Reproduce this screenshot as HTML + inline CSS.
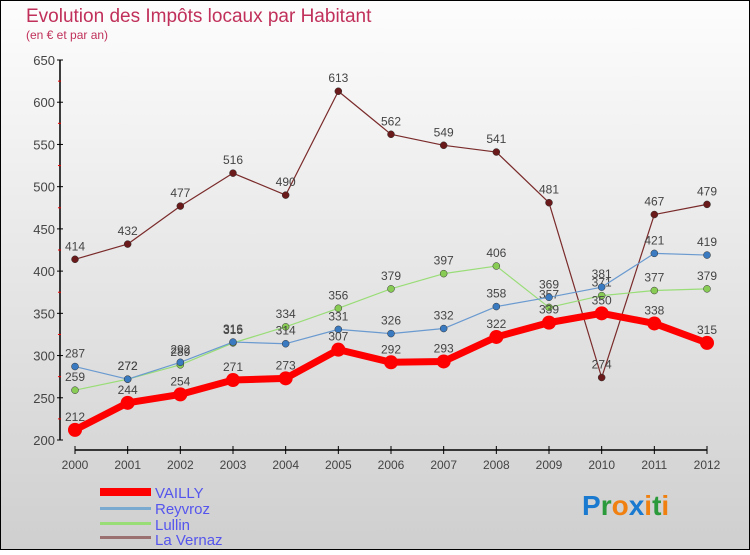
<!DOCTYPE html>
<html><head><meta charset="utf-8"><style>
body{margin:0;width:750px;height:550px;overflow:hidden;font-family:"Liberation Sans",sans-serif}
</style></head><body>
<svg width="750" height="550" xmlns="http://www.w3.org/2000/svg" font-family="Liberation Sans, sans-serif">
<defs><linearGradient id="bg" x1="0" y1="0" x2="0" y2="1"><stop offset="0" stop-color="#fdfdfd"/><stop offset="1" stop-color="#cfcfcf"/></linearGradient></defs>
<rect x="0.5" y="0.5" width="749" height="549" fill="url(#bg)" stroke="#000"/>
<text x="26" y="22" font-size="19" fill="#c0305a">Evolution des Impôts locaux par Habitant</text>
<text x="26" y="39" font-size="12" fill="#c0305a">(en € et par an)</text>
<g id="axes"></g>
<g id="series"></g>
<g font-size="15" fill="#5555ee">
<rect x="100" y="488" width="51" height="8" fill="#f00"/>
<text x="155" y="498" fill="#5555ee">VAILLY</text>
<rect x="100" y="507" width="51" height="3" fill="#7aaad0"/>
<text x="155" y="514" fill="#5555ee">Reyvroz</text>
<rect x="100" y="522" width="51" height="3" fill="#99dd77"/>
<text x="155" y="530" fill="#5555ee">Lullin</text>
<rect x="100" y="536" width="51" height="3" fill="#9a7070"/>
<text x="155" y="545" fill="#5555ee">La Vernaz</text>
</g>
<g font-size="28" font-weight="bold">
<text x="582" y="515"><tspan fill="#1a7ad0">P</tspan><tspan fill="#2a9a3a">r</tspan><tspan fill="#f08010">o</tspan><tspan fill="#1a7ad0">x</tspan><tspan fill="#f08010">i</tspan><tspan fill="#2a9a3a">t</tspan><tspan fill="#f08010">i</tspan></text>
</g>
</svg>
<script>
const years=["2000","2001","2002","2003","2004","2005","2006","2007","2008","2009","2010","2011","2012"];
const yTicks=[200,250,300,350,400,450,500,550,600,650];
const vailly=[212,244,254,271,273,307,292,293,322,339,350,338,315];
const reyvroz=[287,272,292,316,314,331,326,332,358,369,381,421,419];
const lullin=[259,272,289,315,334,356,379,397,406,357,371,377,379];
const lavernaz=[414,432,477,516,490,613,562,549,541,481,274,467,479];
const NS="http://www.w3.org/2000/svg";
const x=i=>75+i*(707-75)/(years.length-1);
const y=v=>440-(v-200)*380/450;
function mk(p,t,a){const e=document.createElementNS(NS,t);for(const k in a)e.setAttribute(k,a[k]);p.appendChild(e);return e;}
const ax=document.getElementById('axes');
let l=mk(ax,'line',{x1:60,y1:60,x2:60,y2:440,stroke:'#000','stroke-width':1.5});


l=mk(ax,'line',{x1:75,y1:450,x2:707,y2:450,stroke:'#000','stroke-width':1.5});


yTicks.forEach((v,i)=>{
 mk(ax,'line',{x1:57,y1:y(v),x2:63,y2:y(v),stroke:'#000'});
 if(i<yTicks.length-1)mk(ax,'line',{x1:58,y1:y(v+25),x2:61,y2:y(v+25),stroke:'#e00'});
 const t=mk(ax,'text',{x:55,y:y(v)+5,'text-anchor':'end','font-size':13,fill:'#444'});
 
 
 t.textContent=v;
});
years.forEach((yr,i)=>{
 mk(ax,'line',{x1:x(i),y1:446,x2:x(i),y2:454,stroke:'#000'});
 const t=mk(ax,'text',{x:x(i),y:469,'text-anchor':'middle','font-size':12,fill:'#444'});
 
 
 t.textContent=yr;
});
const sg=document.getElementById('series');
function draw(name,data,color,w,r,dot){
 const g=mk(sg,'g',{});
 
 
 const p=mk(g,'polyline',{points:data.map((v,i)=>x(i)+','+y(v)).join(' '),fill:'none',stroke:color,'stroke-width':w,'stroke-linejoin':'round'});
 
 
 data.forEach((v,i)=>{
  const c=mk(g,'circle',{cx:x(i),cy:y(v),r:r,fill:dot,stroke:'#333','stroke-width':r>5?0:0.5});
  
  
  const t=mk(g,'text',{x:x(i),y:y(v)-9,'text-anchor':'middle','font-size':12,fill:'#444'});
  
  
  t.textContent=v;
 });
}
draw('lavernaz',lavernaz,'#7a2a2a',1.2,3.5,'#6a1a1a');
draw('lullin',lullin,'#99dd77',1.2,3.5,'#88cc55');
draw('reyvroz',reyvroz,'#6a9ad0',1.2,3.5,'#3a7ac0');
draw('vailly',vailly,'#f00',7,7,'#f00');
</script>
</body></html>
